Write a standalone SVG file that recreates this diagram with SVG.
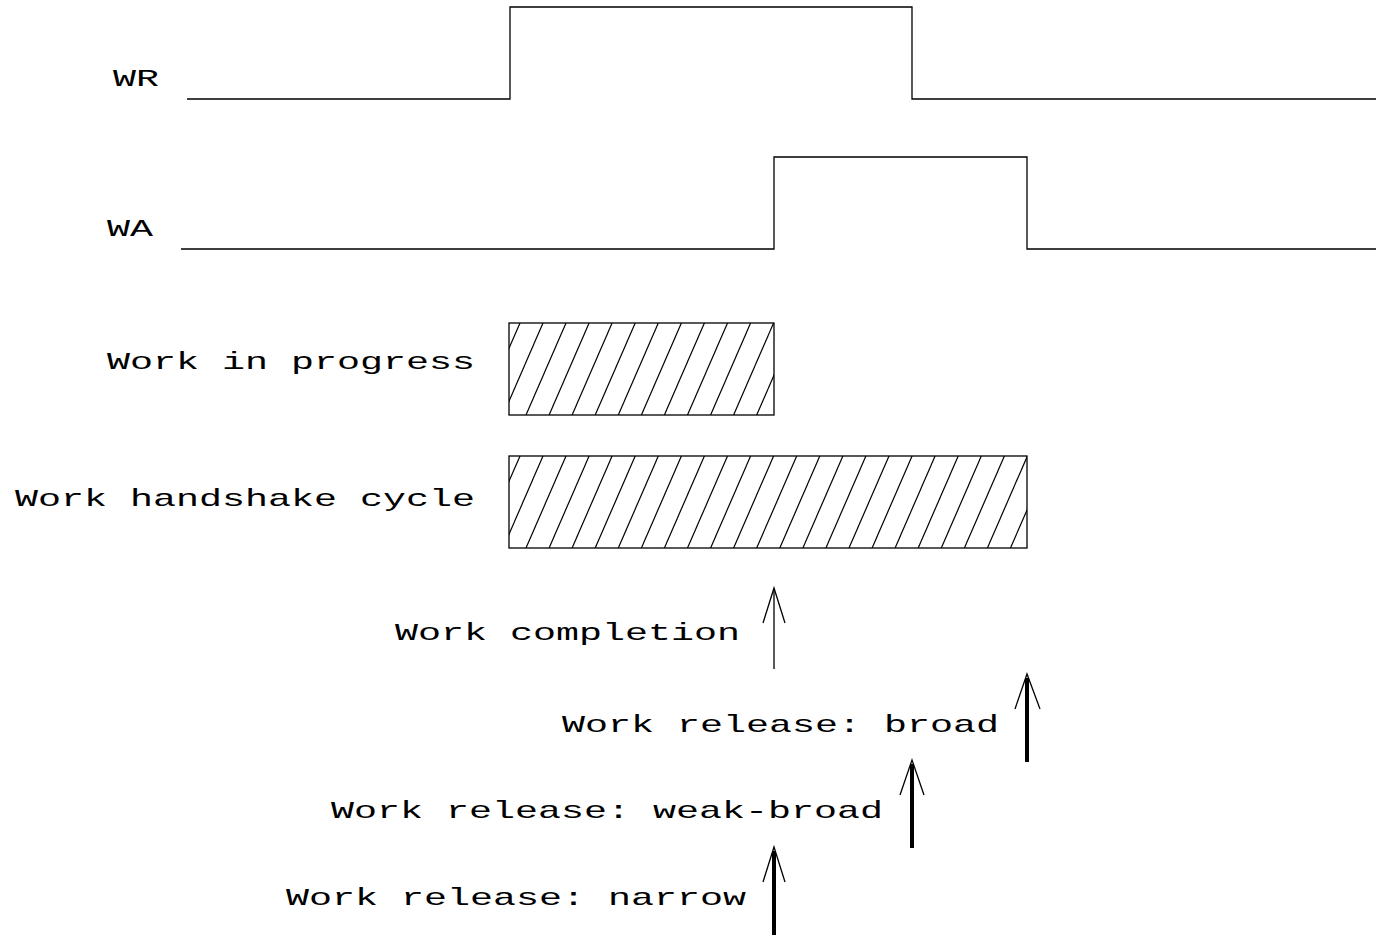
<svg xmlns="http://www.w3.org/2000/svg" width="1376" height="935" viewBox="0 0 1376 935">
<style>
.sig{fill:none;stroke:#000;stroke-width:1.3}
.box{fill:none;stroke:#000;stroke-width:1.3}
.hatch{stroke:#000;stroke-width:1.2}
.lbl{font-family:"Liberation Mono","Courier New",monospace;font-size:24px;fill:#000}
.thin{stroke:#000;stroke-width:1.3;fill:none}
.thick{stroke:#000;stroke-width:4;fill:none}
</style>
<defs>
<clipPath id="c1"><rect x="509" y="323" width="265" height="92"/></clipPath>
<clipPath id="c2"><rect x="509" y="456" width="518" height="92"/></clipPath>
</defs>
<rect width="1376" height="935" fill="#fff"/>
<g id="wr">
<text class="lbl" x="113" y="86" textLength="46" lengthAdjust="spacingAndGlyphs">WR</text>
<polyline class="sig" points="187,99 510,99 510,7 912,7 912,99 1376,99"/>
</g>
<g id="wa">
<text class="lbl" x="107" y="236" textLength="46" lengthAdjust="spacingAndGlyphs">WA</text>
<polyline class="sig" points="181,249 774,249 774,157 1027,157 1027,249 1376,249"/>
</g>
<g id="progress">
<text class="lbl" x="107" y="369" textLength="368" lengthAdjust="spacingAndGlyphs">Work in progress</text>
<g clip-path="url(#c1)">
<line class="hatch" x1="480" y1="415" x2="520" y2="323"/>
<line class="hatch" x1="503" y1="415" x2="543" y2="323"/>
<line class="hatch" x1="526" y1="415" x2="566" y2="323"/>
<line class="hatch" x1="549.1" y1="415" x2="589.1" y2="323"/>
<line class="hatch" x1="572.1" y1="415" x2="612.1" y2="323"/>
<line class="hatch" x1="595.2" y1="415" x2="635.2" y2="323"/>
<line class="hatch" x1="618.3" y1="415" x2="658.3" y2="323"/>
<line class="hatch" x1="641.4" y1="415" x2="681.4" y2="323"/>
<line class="hatch" x1="664.4" y1="415" x2="704.4" y2="323"/>
<line class="hatch" x1="687.5" y1="415" x2="727.5" y2="323"/>
<line class="hatch" x1="710.6" y1="415" x2="750.6" y2="323"/>
<line class="hatch" x1="733.6" y1="415" x2="773.6" y2="323"/>
<line class="hatch" x1="756.7" y1="415" x2="796.7" y2="323"/>
</g>
<rect class="box" x="509" y="323" width="265" height="92"/>
</g>
<g id="handshake">
<text class="lbl" x="15" y="506" textLength="460" lengthAdjust="spacingAndGlyphs">Work handshake cycle</text>
<g clip-path="url(#c2)">
<line class="hatch" x1="480" y1="548" x2="520" y2="456"/>
<line class="hatch" x1="503" y1="548" x2="543" y2="456"/>
<line class="hatch" x1="526" y1="548" x2="566" y2="456"/>
<line class="hatch" x1="549.1" y1="548" x2="589.1" y2="456"/>
<line class="hatch" x1="572.1" y1="548" x2="612.1" y2="456"/>
<line class="hatch" x1="595.2" y1="548" x2="635.2" y2="456"/>
<line class="hatch" x1="618.3" y1="548" x2="658.3" y2="456"/>
<line class="hatch" x1="641.4" y1="548" x2="681.4" y2="456"/>
<line class="hatch" x1="664.4" y1="548" x2="704.4" y2="456"/>
<line class="hatch" x1="687.5" y1="548" x2="727.5" y2="456"/>
<line class="hatch" x1="710.6" y1="548" x2="750.6" y2="456"/>
<line class="hatch" x1="733.6" y1="548" x2="773.6" y2="456"/>
<line class="hatch" x1="756.7" y1="548" x2="796.7" y2="456"/>
<line class="hatch" x1="779.8" y1="548" x2="819.8" y2="456"/>
<line class="hatch" x1="802.9" y1="548" x2="842.9" y2="456"/>
<line class="hatch" x1="825.9" y1="548" x2="865.9" y2="456"/>
<line class="hatch" x1="849" y1="548" x2="889" y2="456"/>
<line class="hatch" x1="872.1" y1="548" x2="912.1" y2="456"/>
<line class="hatch" x1="895.1" y1="548" x2="935.1" y2="456"/>
<line class="hatch" x1="918.2" y1="548" x2="958.2" y2="456"/>
<line class="hatch" x1="941.3" y1="548" x2="981.3" y2="456"/>
<line class="hatch" x1="964.4" y1="548" x2="1004.4" y2="456"/>
<line class="hatch" x1="987.4" y1="548" x2="1027.4" y2="456"/>
<line class="hatch" x1="1010.5" y1="548" x2="1050.5" y2="456"/>
</g>
<rect class="box" x="509" y="456" width="518" height="92"/>
</g>
<g id="completion">
<text class="lbl" x="395" y="640" textLength="345" lengthAdjust="spacingAndGlyphs">Work completion</text>
</g>
<g id="broad">
<text class="lbl" x="562" y="732" textLength="437" lengthAdjust="spacingAndGlyphs">Work release: broad</text>
</g>
<g id="weakbroad">
<text class="lbl" x="331" y="818" textLength="552" lengthAdjust="spacingAndGlyphs">Work release: weak-broad</text>
</g>
<g id="narrow">
<text class="lbl" x="286" y="905" textLength="460" lengthAdjust="spacingAndGlyphs">Work release: narrow</text>
</g>
<g id="connectors">
<line class="thin" x1="774" y1="669" x2="774" y2="589"/>
<polyline class="thin" points="763,623 774,588 785,623"/>
<line class="thick" x1="1027" y1="762" x2="1027" y2="678"/>
<polyline class="thin" points="1015,709 1027,674 1040,709"/>
<line class="thick" x1="912" y1="848" x2="912" y2="764"/>
<polyline class="thin" points="900,795 912,760 924,795"/>
<line class="thick" x1="774" y1="935" x2="774" y2="851"/>
<polyline class="thin" points="763,882 774,847 785,882"/>
</g>
</svg>
